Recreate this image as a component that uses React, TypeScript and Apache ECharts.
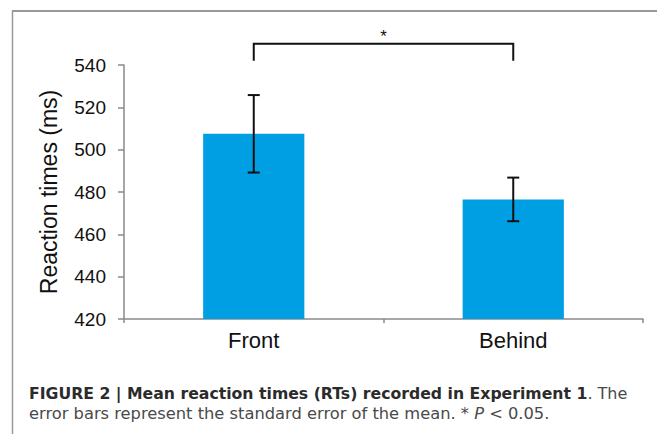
import React, { useEffect, useRef } from "react";
import * as echarts from "echarts";

const categories = ["Front", "Behind"];
const means = [507.5, 476.5];
const stdErrors = [18.3, 10.3];
const yTicks = { min: 420, max: 540, interval: 20 };
const bracketFrom = 0;
const bracketTo = 1;
const bracketTopValue = 550;
const bracketLegValue = 542;
const starValue = 553.5;
const starLabel = "*";
const yAxisTitle = "Reaction times (ms)";
const captionBold = "FIGURE 2 | Mean reaction times (RTs) recorded in Experiment 1";
const captionRest1 = ". The";
const captionLine2a = "error bars represent the standard error of the mean. * ";
const captionItalic = "P";
const captionLine2b = " < 0.05.";

export default function App() {
  const ref = useRef<HTMLDivElement>(null);
  useEffect(() => {
    document.body.style.margin = "0";
    const chart = echarts.init(ref.current!, null, { renderer: "svg" });
    const font = "Liberation Sans, Arial, Helvetica, sans-serif";
    const capFont = "DejaVu Sans, sans-serif";
    const axisColor = "#8a8a8a";
    chart.setOption({
      animation: false,
      backgroundColor: "#ffffff",
      textStyle: { fontFamily: font },
      grid: { left: 124, right: 14, top: 65, bottom: 115 },
      xAxis: {
        type: "category",
        data: categories,
        boundaryGap: true,
        axisLine: { lineStyle: { color: axisColor, width: 1.5 } },
        axisTick: { show: true, length: 4, alignWithLabel: false, lineStyle: { color: axisColor, width: 1.5 } },
        axisLabel: { color: "#111", fontSize: 22, margin: 10, fontFamily: font },
      },
      yAxis: {
        type: "value",
        min: yTicks.min,
        max: yTicks.max,
        interval: yTicks.interval,
        name: yAxisTitle,
        nameLocation: "middle",
        nameRotate: 90,
        nameGap: 64,
        nameTextStyle: { color: "#111", fontSize: 23, fontFamily: font },
        axisLine: { show: true, lineStyle: { color: axisColor, width: 1.5 } },
        axisTick: { show: true, length: 6, lineStyle: { color: axisColor, width: 1.5 } },
        splitLine: { show: false },
        axisLabel: { color: "#111", fontSize: 19, margin: 18, fontFamily: font },
      },
      series: [
        {
          type: "bar",
          data: means,
          barWidth: "39%",
          itemStyle: { color: "#009fe3" },
        },
        {
          type: "custom",
          data: means.map((m, i) => [i, m, stdErrors[i]]),
          z: 5,
          renderItem: (params: any, api: any) => {
            const i = api.value(0);
            const m = api.value(1);
            const se = api.value(2);
            const top = api.coord([i, m + se]);
            const bot = api.coord([i, m - se]);
            const hw = 6;
            const st = { stroke: "#111", lineWidth: 2 };
            return {
              type: "group",
              children: [
                { type: "line", shape: { x1: top[0], y1: top[1], x2: bot[0], y2: bot[1] }, style: st },
                { type: "line", shape: { x1: top[0] - hw, y1: top[1], x2: top[0] + hw, y2: top[1] }, style: st },
                { type: "line", shape: { x1: bot[0] - hw, y1: bot[1], x2: bot[0] + hw, y2: bot[1] }, style: st },
              ],
            };
          },
        },
        {
          type: "custom",
          data: [[bracketFrom, bracketTo, bracketTopValue, bracketLegValue, starValue]],
          z: 5,
          clip: false,
          renderItem: (params: any, api: any) => {
            const a = api.value(0);
            const b = api.value(1);
            const t = api.value(2);
            const l = api.value(3);
            const s = api.value(4);
            const pa = api.coord([a, t]);
            const pb = api.coord([b, t]);
            const la = api.coord([a, l]);
            const ps = api.coord([a, s]);
            const st = { stroke: "#111", lineWidth: 2, fill: null };
            return {
              type: "group",
              children: [
                {
                  type: "polyline",
                  shape: { points: [[pa[0], la[1]], [pa[0], pa[1]], [pb[0], pb[1]], [pb[0], la[1]]] },
                  style: st,
                },
                {
                  type: "text",
                  x: (pa[0] + pb[0]) / 2,
                  y: ps[1],
                  style: { text: starLabel, fill: "#111", fontSize: 17, fontFamily: font, align: "center", verticalAlign: "middle" },
                },
              ],
            };
          },
        },
      ],
      graphic: [
        { type: "line", shape: { x1: 12, y1: 11, x2: 657, y2: 11 }, style: { stroke: "#999", lineWidth: 2 } },
        { type: "line", shape: { x1: 12.5, y1: 11, x2: 12.5, y2: 434 }, style: { stroke: "#999", lineWidth: 1.5 } },
        {
          type: "text",
          x: 29,
          y: 383,
          style: {
            text: `{b|${captionBold}}{r|${captionRest1}}\n{r2|${captionLine2a}}{i|${captionItalic}}{r2|${captionLine2b}}`,
            verticalAlign: "top",
            rich: {
              b: { fontSize: 15.7, fontWeight: "bold", fill: "#2b2b2b", fontFamily: capFont, lineHeight: 20 },
              r: { fontSize: 16, fill: "#4a4a4a", fontFamily: capFont, lineHeight: 20 },
              r2: { fontSize: 16.3, fill: "#4a4a4a", fontFamily: capFont, lineHeight: 20 },
              i: { fontSize: 16.3, fontStyle: "italic", fill: "#4a4a4a", fontFamily: capFont, lineHeight: 20 },
            },
          },
        },
      ],
    });
    return () => chart.dispose();
  }, []);
  return <div ref={ref} style={{ width: 657, height: 434 }} />;
}
